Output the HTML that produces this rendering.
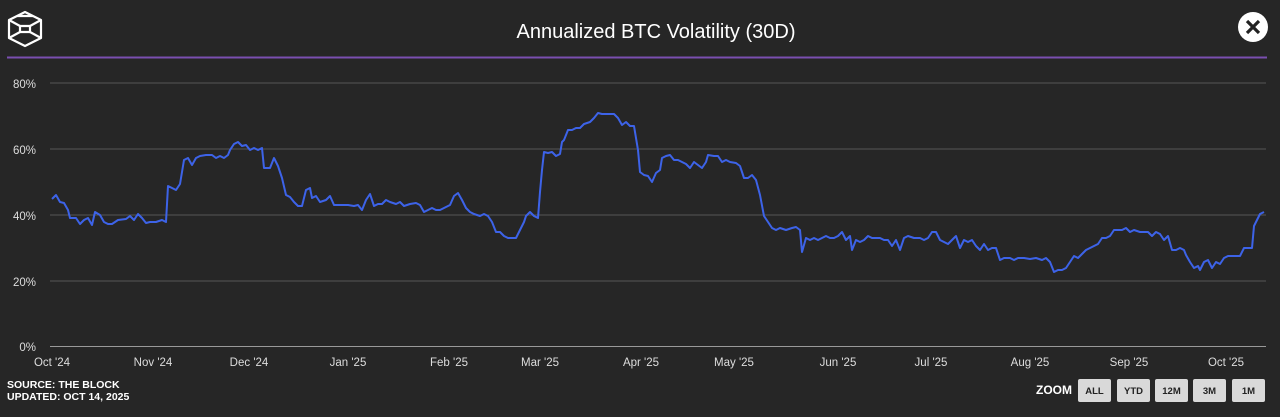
<!DOCTYPE html>
<html><head><meta charset="utf-8"><style>
body{margin:0;background:#262626;width:1280px;height:417px;overflow:hidden;font-family:"Liberation Sans",sans-serif}
</style></head><body>
<svg width="1280" height="417" xmlns="http://www.w3.org/2000/svg" style="display:block">
<rect width="1280" height="417" fill="#262626"/>
<g stroke="#fff" stroke-width="2.2" fill="none" stroke-linejoin="round">
<polygon points="25,12 41,20 41,38 25,46 9,38 9,20"/>
<polygon points="20,26 30,26 30,32 20,32"/>
<path d="M9,20 L20,26 M41,20 L30,26 M9,38 L20,32 M41,38 L30,32 M17,16 L33,16"/>
</g>
<text x="656" y="38" fill="#fff" font-size="20" text-anchor="middle">Annualized BTC Volatility (30D)</text>
<circle cx="1253" cy="27" r="15" fill="#fff"/>
<path d="M1247,21 L1259,33 M1259,21 L1247,33" stroke="#222" stroke-width="3.2"/>
<line x1="7" y1="57.5" x2="1267" y2="57.5" stroke="#7a4fb0" stroke-width="2"/>
<g stroke="#555" stroke-width="1">
<line x1="50" y1="83" x2="1266" y2="83"/><line x1="50" y1="149" x2="1266" y2="149"/>
<line x1="50" y1="215" x2="1266" y2="215"/><line x1="50" y1="281" x2="1266" y2="281"/>
</g>
<line x1="50" y1="346.5" x2="1266" y2="346.5" stroke="#999" stroke-width="1"/>
<g fill="#ddd" font-size="11.5" text-anchor="end">
<text x="36" y="88">80%</text><text x="36" y="154">60%</text><text x="36" y="220">40%</text><text x="36" y="286">20%</text><text x="36" y="351">0%</text>
</g>
<g fill="#ddd" font-size="11.5" text-anchor="middle">
<text x="52" y="366">Oct '24</text><text x="153" y="366">Nov '24</text><text x="249" y="366">Dec '24</text><text x="348" y="366">Jan '25</text><text x="449" y="366">Feb '25</text><text x="540" y="366">Mar '25</text><text x="641" y="366">Apr '25</text><text x="734" y="366">May '25</text><text x="838" y="366">Jun '25</text><text x="931" y="366">Jul '25</text><text x="1030" y="366">Aug '25</text><text x="1129" y="366">Sep '25</text><text x="1226" y="366">Oct '25</text>
</g>
<polyline fill="none" stroke="#3d63e8" stroke-width="2" stroke-linejoin="round" points="52,199 56,195 60,202 64,203 68,210 70,218 76,218 80,224 84,220 88,218 92,225 95,212 100,215 104,222 108,224 112,224 118,220 126,219 130,216 134,220 138,214 142,218 146,223 150,222 156,222 162,220 166,222 168,186 172,188 176,190 180,184 184,160 188,158 192,165 196,158 200,156 206,155 212,155 216,158 220,156 224,158 228,155 230,150 234,144 238,142 242,146 246,145 250,150 254,148 258,150 262,148 264,168 270,168 274,158 278,166 282,178 286,195 290,197 294,202 298,206 302,206 306,190 310,188 312,198 316,196 320,202 326,200 330,196 334,205 340,205 348,205 354,206 358,205 362,210 366,200 370,194 374,206 378,204 382,204 386,200 390,202 396,204 400,202 404,206 410,204 416,203 420,205 424,212 428,210 432,208 436,210 440,210 444,208 450,205 454,196 458,193 462,200 466,208 470,212 474,214 480,216 484,214 488,216 492,222 496,232 500,232 504,236 508,238 512,238 516,238 520,230 524,222 526,216 530,212 534,216 538,218 540,192 542,170 544,152 548,153 552,152 556,156 560,154 562,142 564,140 568,130 572,130 576,128 580,128 584,124 590,122 594,118 598,113 602,114 606,114 610,114 614,114 618,118 622,125 626,122 630,126 634,126 638,150 640,172 644,175 648,176 652,182 656,173 660,170 662,158 666,156 670,155 674,160 678,160 682,162 686,164 690,168 694,162 698,165 702,168 706,162 708,155 714,156 718,156 722,162 726,160 730,162 736,163 740,166 744,178 748,178 752,175 756,180 760,195 764,216 768,222 772,228 776,230 780,228 786,230 792,228 796,227 800,230 802,252 806,238 810,240 814,238 818,240 822,238 826,236 830,238 834,238 838,236 842,232 846,240 850,236 852,250 856,240 860,242 864,240 868,236 872,238 876,238 880,238 884,240 888,240 892,246 896,240 900,250 904,238 908,236 914,238 920,238 924,240 928,238 932,232 936,232 940,240 944,242 948,244 952,240 956,236 960,248 964,240 968,242 972,240 976,246 980,250 984,244 988,250 992,248 996,248 1000,260 1004,258 1010,258 1014,260 1018,258 1024,258 1030,259 1036,258 1042,260 1046,258 1050,262 1054,272 1058,270 1062,270 1066,268 1070,262 1074,256 1078,258 1082,254 1086,250 1090,248 1094,246 1098,244 1102,238 1106,238 1110,236 1114,230 1118,230 1122,230 1126,228 1130,232 1134,230 1140,232 1144,232 1148,232 1152,236 1156,232 1160,234 1164,240 1168,236 1172,250 1176,250 1180,248 1184,250 1186,255 1190,262 1194,268 1198,266 1200,270 1204,262 1208,260 1212,268 1216,262 1220,264 1224,258 1228,256 1232,256 1236,256 1240,256 1244,248 1248,248 1252,248 1254,226 1256,222 1260,214 1264,212"/>
<g fill="#fff" font-size="10.5" font-weight="bold">
<text x="7" y="388">SOURCE: THE BLOCK</text><text x="7" y="400">UPDATED: OCT 14, 2025</text>
</g>
<text x="1072" y="394" fill="#fff" font-size="12" font-weight="bold" text-anchor="end">ZOOM</text>
<g fill="#d9d9d9"><rect x="1078" y="379" width="33" height="23" rx="2"/><rect x="1117" y="379" width="33" height="23" rx="2"/><rect x="1155" y="379" width="33" height="23" rx="2"/><rect x="1193" y="379" width="33" height="23" rx="2"/><rect x="1232" y="379" width="33" height="23" rx="2"/></g>
<g fill="#222" font-size="9.5" font-weight="bold" text-anchor="middle">
<text x="1094.5" y="394">ALL</text><text x="1133.5" y="394">YTD</text><text x="1171.5" y="394">12M</text><text x="1209.5" y="394">3M</text><text x="1248.5" y="394">1M</text>
</g>
</svg>
</body></html>
